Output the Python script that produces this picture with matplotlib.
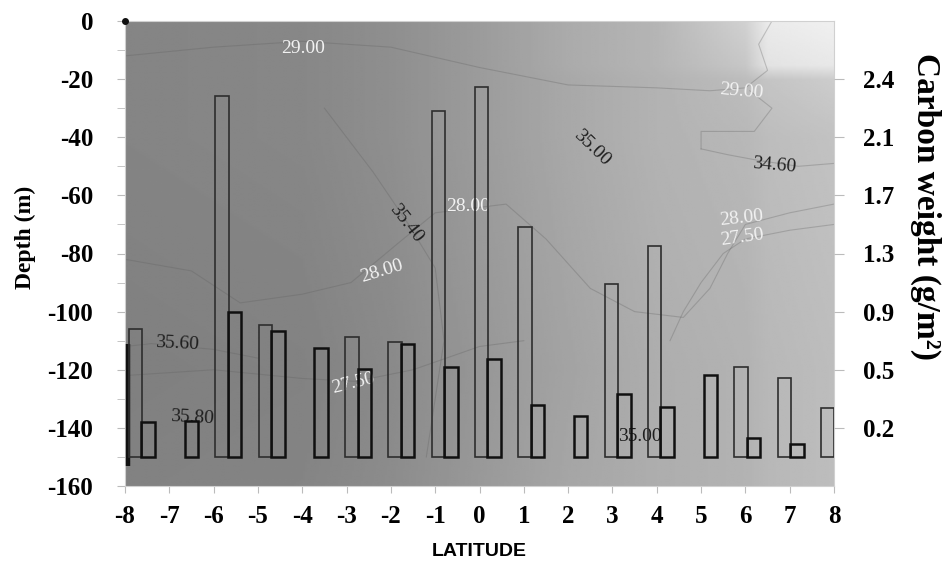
import numpy as np
import matplotlib
matplotlib.use("Agg")
import matplotlib.pyplot as plt
from matplotlib.ticker import FixedLocator, FixedFormatter, MultipleLocator

plt.rcParams["axes.unicode_minus"] = False

# ---------------- data ----------------
latitude = [-8, -7, -6, -5, -4, -3, -2, -1, 0, 1, 2, 3, 4, 5, 6, 7, 8]
nan = np.nan
# carbon weight (g/m2), two bars per latitude (left / right)
carbon_left = [0.81, nan, 2.29, 0.84, nan, 0.76, 0.73, 2.20, 2.35, 1.46,
               nan, 1.10, 1.34, nan, 0.57, 0.50, 0.31]
carbon_right = [0.225, 0.23, 0.92, 0.80, 0.69, 0.56, 0.72, 0.57, 0.62, 0.33,
                0.26, 0.40, 0.32, 0.52, 0.12, 0.085, nan]

depth_ticks = [0, -20, -40, -60, -80, -100, -120, -140, -160]
carbon_tick_labels = ["0.2", "0.5", "0.9", "1.3", "1.7", "2.1", "2.4"]
carbon_tick_depths = [-140, -120, -100, -80, -60, -40, -20]

# background field (grey level) on a coarse lat/depth grid
bg_lat = [-8, -4, -2, 0, 2, 4, 6, 6.5, 8]
bg_depth = [0, -15, -20, -40, -80, -120, -160]
bg_grey = np.array([
    [0.52, 0.53, 0.56, 0.61, 0.67, 0.71, 0.82, 0.92, 0.94],
    [0.52, 0.53, 0.56, 0.61, 0.67, 0.71, 0.78, 0.89, 0.91],
    [0.52, 0.53, 0.56, 0.61, 0.66, 0.70, 0.74, 0.77, 0.80],
    [0.52, 0.53, 0.56, 0.61, 0.66, 0.70, 0.72, 0.74, 0.76],
    [0.51, 0.52, 0.55, 0.60, 0.65, 0.69, 0.71, 0.73, 0.75],
    [0.50, 0.51, 0.54, 0.59, 0.64, 0.68, 0.70, 0.72, 0.74],
    [0.51, 0.52, 0.55, 0.60, 0.65, 0.68, 0.70, 0.72, 0.74],
])

# contour isolines (lat, depth)
iso_lines = [
    ([-8, -6.5, -5.4, -4, -2.9, -1.8, -1.0, 0.6, 1.5, 2.5, 3.5, 4.6, 5.2, 5.6, 6.0, 7, 8],
     [-82, -86, -97, -94, -90, -76, -66, -63, -75, -92, -100, -102, -92, -80, -70, -66, -63]),
    ([-8, -6, -4, -2, 0, 2, 4, 5.2, 6.0, 6.5, 6.3, 6.6],
     [-12, -9, -7, -9, -16, -22, -23, -24, -23, -17, -8, 0]),
    ([-3.5, -2.4, -1.6, -1.0, -0.8, -1.2],
     [-30, -52, -70, -85, -110, -150]),
    ([5.0, 5.6, 6.3, 7.2, 8], [-44, -46, -48, -50, -49]),
    ([5.0, 5.0, 6.2, 6.6, 6.1], [-44, -38, -38, -30, -24]),
    ([-8, -6, -4, -2.8, -1.5, 0, 1], [-122, -120, -123, -124, -120, -112, -110]),
    ([-8, -7.4, -6, -5], [-112, -111, -113, -116]),
    ([4.3, 4.6, 5.0, 5.5, 6.0, 7.0, 8], [-110, -100, -90, -80, -75, -72, -70]),
]

# contour labels: text, lat, depth, rotation, light(True)/dark(False)
iso_text = ["29.00", "35.40", "28.00", "28.00", "35.00", "29.00", "34.60",
            "28.00", "27.50", "35.60", "35.80", "27.50", "35.00"]
iso_lat = [-3.98, -1.65, -2.21, -0.26, 2.53, 5.9, 6.66, 5.92, 5.92, -6.82, -6.48, -2.85, 3.63]
iso_depth = [-9.4, -69.7, -86.2, -63.8, -43.7, -24.2, -49.6, -67.9, -74.4, -111, -136.4, -124.6, -142.9]
iso_rot = [0, -52, 17, 0, -44, -5, -5, 6, 8, -3, -3, 14, 0]
iso_light = [True, False, True, True, False, True, False, True, True, False, False, True, False]

# dark vertical mark at the left edge (lat, depth from, depth to)
mark_lat = -7.93
mark_depth = (-153, -111)

# ---------------- figure ----------------
W, H = 946, 561
fig = plt.figure(figsize=(W / 100, H / 100), dpi=100)
rect = [125 / W, (H - 486) / H, (834 - 125) / W, (486 - 21) / H]
ax = fig.add_axes(rect)

serif = ["Liberation Serif", "DejaVu Serif"]

# background field resampled on a fine uniform grid (linear interpolation of the grid above)
lat_f = np.linspace(-8, 8, 321)
dep_f = np.linspace(0, -160, 321)
tmp = np.array([np.interp(lat_f, bg_lat, row) for row in bg_grey])
field = np.array([np.interp(-dep_f, [-d for d in bg_depth], tmp[:, j])
                  for j in range(len(lat_f))]).T
ax.imshow(field, cmap="gray", vmin=0, vmax=1, aspect="auto",
          interpolation="bilinear", zorder=0, extent=[-8, 8, -160, 0])

for xs, ys in iso_lines:
    ax.plot(xs, ys, color="#5f5f5f", lw=0.8, alpha=0.3, zorder=1)

for t, x, y, r, light in zip(iso_text, iso_lat, iso_depth, iso_rot, iso_light):
    ax.text(x, y, t, rotation=r, ha="center", va="center",
            color="#f2f2f2" if light else "#1e1e1e",
            fontsize=14, family=serif, zorder=2)

ax.vlines(mark_lat, mark_depth[0], mark_depth[1], color="#111111", lw=3.2, zorder=3)
ax.plot([-8], [0], "o", ms=4, color="#111111", clip_on=False, zorder=5)

ax.set_xlim(-8, 8)
ax.set_ylim(-160, 0)
ax.set_xticks(latitude)
ax.set_xticklabels([str(v) for v in latitude])
ax.set_yticks(depth_ticks)
ax.set_yticklabels([str(v) for v in depth_ticks])
ax.yaxis.set_minor_locator(MultipleLocator(10))
ax.tick_params(axis="x", which="both", length=5, color="#bbbbbb", pad=9,
               labelsize=18)
ax.tick_params(axis="y", which="both", length=6, color="#bbbbbb", pad=17,
               labelsize=18)
for lab in ax.get_xticklabels() + ax.get_yticklabels():
    lab.set_family(serif)
    lab.set_fontweight("bold")
for s in ax.spines.values():
    s.set_color("#d0d0d0")
    s.set_linewidth(0.8)

ax.set_ylabel("Depth (m)", fontsize=17, fontweight="bold", family=serif)
ax.yaxis.set_label_coords(-0.126, 0.535)
ax.set_xlabel("LATITUDE", fontsize=14, fontweight="bold",
              family=["Liberation Sans", "DejaVu Sans"])
ax.xaxis.set_label_coords(0.5, -0.122)

# bar axes (carbon weight) overlaid
axb = fig.add_axes(rect, facecolor="none")
k = 2.4 / 130.0  # carbon units per metre, baseline at -150 m
axb.set_ylim((-160 + 150) * k, (0 + 150) * k)
axb.set_xlim(-8.245, 8.149)
lat_arr = np.array(latitude, dtype=float)
wbar = 0.31
axb.bar(lat_arr, carbon_left, width=wbar, bottom=0, facecolor="none",
        edgecolor="#2e2e2e", linewidth=1.2, zorder=3)
axb.bar(lat_arr + 0.29, carbon_right, width=wbar, bottom=0, facecolor="none",
        edgecolor="#101010", linewidth=1.8, zorder=4)
axb.xaxis.set_visible(False)
for s in axb.spines.values():
    s.set_visible(False)
axb.yaxis.tick_right()
axb.yaxis.set_major_locator(FixedLocator([(d + 150) * k for d in carbon_tick_depths]))
axb.yaxis.set_major_formatter(FixedFormatter(carbon_tick_labels))
axb.tick_params(axis="y", length=7, color="#bbbbbb", pad=14, labelsize=18)
for lab in axb.get_yticklabels():
    lab.set_family(serif)
    lab.set_fontweight("bold")

fig.text(926 / W, 1 - 207 / H, "Carbon weight (g/m\u00b2)", rotation=270,
         ha="center", va="center", fontsize=24, fontweight="bold", family=serif)

fig.savefig("out.png", dpi=100)
